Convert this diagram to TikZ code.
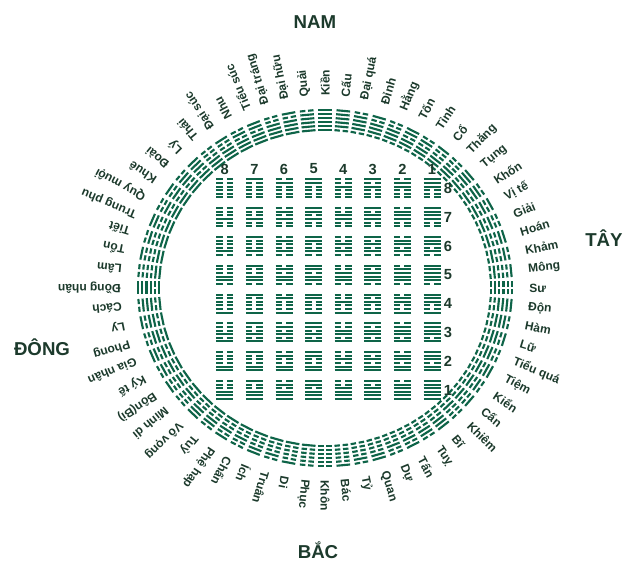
\documentclass[tikz,border=0pt]{standalone}
\usepackage{fontspec}
\setmainfont{Liberation Sans}
\definecolor{hexc}{HTML}{0E6448}
\definecolor{txtc}{HTML}{1C3A2C}
\begin{document}
\begin{tikzpicture}[x=0.75pt,y=0.75pt,
  lab/.style={anchor=west,inner sep=0pt,text=txtc,font=\fontsize{9}{10}\selectfont\bfseries},
  dir/.style={text=txtc,font=\fontsize{14}{15}\selectfont\bfseries},
  num/.style={text=txtc,font=\fontsize{11}{12}\selectfont\bfseries},
  hl/.style={draw=hexc,line width=1.6pt}]
\useasboundingbox (0,0) rectangle (640,572);
\fill[white] (0,0) rectangle (640,572);
% ring of hexagrams
\coordinate (cen) at (325,284);
\begin{scope}[shift={(cen)},xscale=1.05]
\foreach \k in {0,...,63}{
  \pgfmathtruncatemacro\v{\k<32 ? 63-\k : \k-32}
  \begin{scope}[rotate={90+\k*5.625}]
  \foreach \i in {1,...,6}{
    \pgfmathtruncatemacro\b{mod(floor(\v/2^(6-\i)),2)}
    \pgfmathsetmacro\r{158+(\i-1)*4}
    \ifnum\b=1
      \draw[hl] (\r,-6.5) -- (\r,6.5);
    \else
      \draw[hl] (\r,-6.5) -- (\r,-1.3) (\r,1.3) -- (\r,6.5);
    \fi
  }
  \end{scope}
}
\end{scope}
% labels
\foreach \nm [count=\n from 0] in {Kiền,Quải,Đại hữu,Đại tráng,Tiểu súc,Nhu,Đại súc,Thái,Lý,Đoài,Khuê,Quy muội,Trung phu,Tiết,Tổn,Lâm,Đồng nhân,Cách,Ly,Phong,Gia nhân,Ký tế,Bôn(Bi),Minh di,Vô vọng,Tuỳ,Phệ hạp,Chấn,Ích,Truân,Di,Phục,Khôn,Bác,Tỷ,Quan,Dự,Tấn,Tuỵ,Bĩ,Khiêm,Cấn,Kiển,Tiệm,Tiểu quá,Lữ,Hàm,Độn,Sư,Mông,Khảm,Hoán,Giải,Vị tế,Khốn,Tụng,Thăng,Cổ,Tỉnh,Tốn,Hằng,Đỉnh,Đại quá,Cấu}{
  \pgfmathsetmacro\th{90+\n*5.625}
  \node[lab,rotate=\th] (L\n) at ({325+204*cos(\th)},{284+192*sin(\th)}) {\nm};
}
% directions
\node[dir] (nam) at (315,550) {NAM};
\node[dir] (bac) at (318,22) {BẮC};
\node[dir] (tay) at (604,334) {TÂY};
\node[dir] (dong) at (42,225) {ĐÔNG};
% square of hexagrams
\foreach \c in {1,...,8}{
  \pgfmathsetmacro\cx{432-(\c-1)*29.6}
  \node[num] (ct\c) at (\cx,403) {\c};
  \foreach \r in {1,...,8}{
    \pgfmathsetmacro\cy{182+(\r-1)*28.8}
    \pgfmathtruncatemacro\v{(8-\r)*8+(8-\c)}
    \foreach \i in {1,...,6}{
      \pgfmathtruncatemacro\b{mod(floor(\v/2^(6-\i)),2)}
      \pgfmathsetmacro\yy{\cy-9+(\i-1)*3.6}
      \ifnum\b=1
        \draw[hl] (\cx-8.5,\yy) -- (\cx+8.5,\yy);
      \else
        \draw[hl] (\cx-8.5,\yy) -- (\cx-2,\yy) (\cx+2,\yy) -- (\cx+8.5,\yy);
      \fi
    }
  }
}
\foreach \r in {1,...,8}{
  \node[num] (rn\r) at (448,{182+(\r-1)*28.8}) {\r};
}
\end{tikzpicture}
\end{document}
